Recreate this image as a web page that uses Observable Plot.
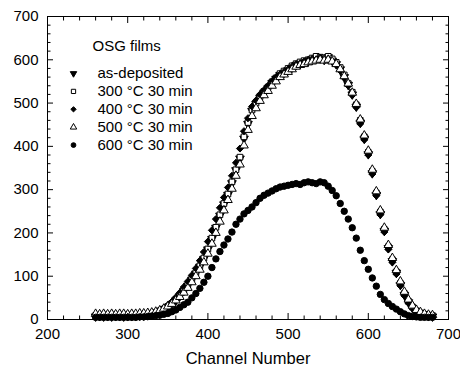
<!DOCTYPE html>
<html>
<head>
<meta charset="utf-8">
<script src="https://cdn.jsdelivr.net/npm/d3@7"></script>
<script src="https://cdn.jsdelivr.net/npm/@observablehq/plot@0.6"></script>
<style>
  html, body { margin: 0; padding: 0; background: #fff; }
  #chart { width: 460px; height: 370px; }
</style>
</head>
<body>
<div id="chart"></div>
<script>
const channels = [
  260,265,270,275,280,285,290,295,300,305,
  310,315,320,325,330,335,340,345,350,355,
  360,365,370,375,380,385,390,395,400,405,
  410,415,420,425,430,435,440,445,450,455,
  460,465,470,475,480,485,490,495,500,505,
  510,515,520,525,530,535,540,545,550,555,
  560,565,570,575,580,585,590,595,600,605,
  610,615,620,625,630,635,640,645,650,655,
  660,665,670,675,680
];
const asDeposited = [
  7,8,7,8,7,8,8,7,8,8,
  8,9,9,10,12,14,18,22,28,35,
  44,54,66,78,92,106,122,140,162,186,
  212,240,266,288,315,345,372,418,452,482,
  498,512,524,534,546,556,565,570,576,582,
  588,590,594,597,600,603,604,600,606,598,
  590,578,560,542,520,492,455,418,382,338,
  288,244,205,165,135,108,80,57,40,27,
  18,13,10,8,7
];
const c300 = [
  9,9,10,9,10,9,10,10,9,10,
  10,10,11,12,13,16,20,24,30,37,
  46,56,68,80,94,108,124,142,163,188,
  213,242,268,290,318,346,375,422,455,484,
  500,515,527,537,549,558,568,574,580,586,
  591,595,598,600,604,608,606,604,608,602,
  594,582,565,545,525,496,460,422,386,342,
  292,248,208,168,138,110,83,60,42,29,
  20,15,12,10,9
];
const c400 = [
  7,7,8,7,8,7,8,8,7,8,
  8,9,10,12,14,17,22,27,33,41,
  51,62,75,88,102,118,136,156,180,206,
  232,258,282,305,332,362,395,435,465,492,
  506,520,530,540,551,560,566,572,578,584,
  590,592,596,600,602,600,605,598,602,596,
  588,575,558,540,518,490,452,415,380,336,
  286,242,202,162,132,105,78,55,38,26,
  17,12,10,8,7
];
const c500 = [
  13,12,13,12,13,12,13,13,12,13,
  13,14,14,15,16,18,21,25,30,36,
  44,52,62,73,86,100,115,132,152,175,
  200,226,252,276,302,332,358,402,438,470,
  488,505,518,528,540,550,560,566,572,578,
  584,588,590,594,596,598,600,598,600,596,
  590,578,562,545,524,498,462,425,390,346,
  296,252,212,172,142,114,88,64,46,32,
  22,17,13,11,10
];
const c600 = [
  5,5,5,5,5,5,5,5,5,5,
  5,6,6,7,8,9,10,12,14,18,
  22,28,34,40,50,60,72,86,100,120,
  140,157,172,186,202,220,232,244,252,260,
  270,280,287,292,297,302,306,308,310,312,
  314,312,316,318,316,314,318,316,308,298,
  286,268,250,232,212,188,160,136,116,96,
  77,58,46,37,30,24,18,13,9,7,
  6,5,5,5,5
];
const seriesNames = ["as-deposited", "300 °C 30 min", "400 °C 30 min", "500 °C 30 min", "600 °C 30 min"];
const seriesValues = [asDeposited, c300, c400, c500, c600];
const legendTitle = "OSG films";
const xLabel = "Channel Number";
const xTicks = [200, 300, 400, 500, 600, 700];
const xMinorTicks = [220,240,260,280,320,340,360,380,420,440,460,480,520,540,560,580,620,640,660,680];
const yTicks = [0, 100, 200, 300, 400, 500, 600, 700];
const yMinorTicks = [20,40,60,80,120,140,160,180,220,240,260,280,320,340,360,380,420,440,460,480,520,540,560,580,620,640,660,680];

const sqrt3 = Math.sqrt(3);
const triangleDown = {
  draw(context, size) {
    const y = -Math.sqrt(size / (sqrt3 * 3));
    context.moveTo(0, -y * 2);
    context.lineTo(-sqrt3 * y, y);
    context.lineTo(sqrt3 * y, y);
    context.closePath();
  }
};
const styles = [
  {symbol: triangleDown, fill: "black", stroke: "black"},
  {symbol: "square", fill: "white", stroke: "black"},
  {symbol: "diamond2", fill: "black", stroke: "black"},
  {symbol: "triangle", fill: "white", stroke: "black"},
  {symbol: "circle", fill: "black", stroke: "black"}
];

const tables = seriesValues.map((vals, s) =>
  channels.map((c, i) => ({channel: c, value: vals[i], series: seriesNames[s]}))
);

const font = "Liberation Sans, Arial, Helvetica, sans-serif";
const dataMarks = tables.map((t, s) =>
  Plot.dot(t, {x: "channel", y: "value", symbol: styles[s].symbol, r: 3.2,
    fill: styles[s].fill, stroke: styles[s].stroke, strokeWidth: 1})
);

const legendMarks = [
  Plot.text([legendTitle], {frameAnchor: "top-left", dx: 45, dy: 30, text: d => d,
    textAnchor: "start", lineAnchor: "middle", fontSize: 15})
];
seriesNames.forEach((name, i) => {
  const dy = 57 + 17.9 * i;
  legendMarks.push(Plot.dot([name], {frameAnchor: "top-left", dx: 26, dy, symbol: styles[i].symbol,
    r: 2.4, fill: styles[i].fill, stroke: styles[i].stroke, strokeWidth: 1}));
  legendMarks.push(Plot.text([name], {frameAnchor: "top-left", dx: 50, dy, text: d => d,
    textAnchor: "start", lineAnchor: "middle", fontSize: 15}));
});

const blank = () => "";
const chart = Plot.plot({
  width: 460,
  height: 370,
  marginLeft: 47,
  marginRight: 12,
  marginTop: 16,
  marginBottom: 51,
  style: {fontFamily: font, fontSize: "15px", color: "black", background: "white"},
  x: {domain: [200, 700], label: null},
  y: {domain: [0, 700], label: null},
  marks: [
    ...dataMarks,
    Plot.frame({stroke: "black", strokeWidth: 1}),
    Plot.axisX({ticks: xTicks, tickSize: -6, tickPadding: 15, label: null, tickFormat: d => String(d), fontSize: 15}),
    Plot.axisX({ticks: xMinorTicks, tickSize: -3.5, label: null, tickFormat: blank}),
    Plot.axisX({anchor: "top", ticks: xTicks, tickSize: -6, label: null, tickFormat: blank}),
    Plot.axisX({anchor: "top", ticks: xMinorTicks, tickSize: -3.5, label: null, tickFormat: blank}),
    Plot.axisY({ticks: yTicks, tickSize: -6, tickPadding: 15, label: null, tickFormat: d => String(d), fontSize: 15}),
    Plot.axisY({ticks: yMinorTicks, tickSize: -3.5, label: null, tickFormat: blank}),
    Plot.axisY({anchor: "right", ticks: yTicks, tickSize: -6, label: null, tickFormat: blank}),
    Plot.axisY({anchor: "right", ticks: yMinorTicks, tickSize: -3.5, label: null, tickFormat: blank}),
    Plot.text([xLabel], {frameAnchor: "bottom", dy: 33, text: d => d, lineAnchor: "top", fontSize: 16.5}),
    ...legendMarks
  ]
});
document.getElementById("chart").appendChild(chart);
</script>
</body>
</html>
